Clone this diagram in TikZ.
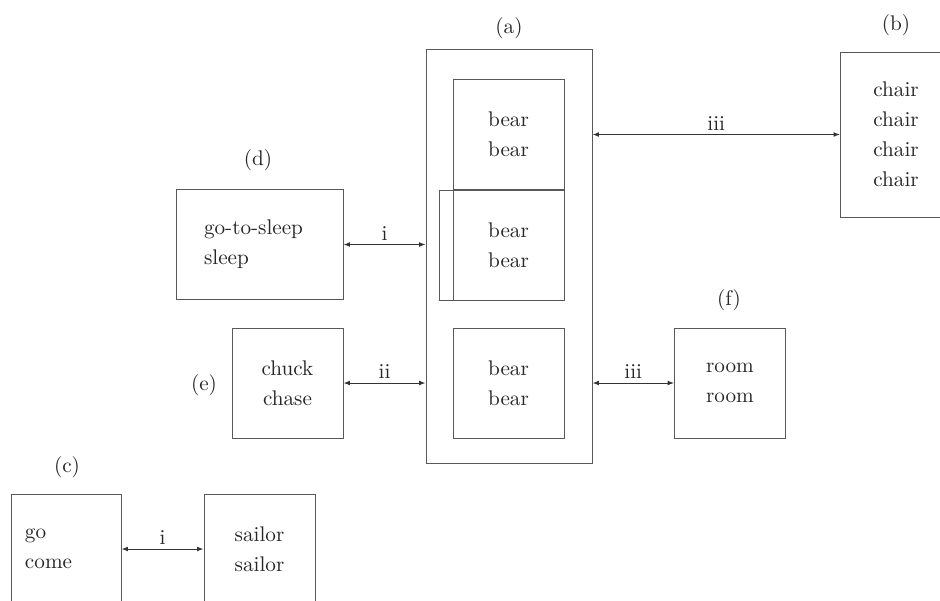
\documentclass[tikz,border=0pt]{standalone}
\usetikzlibrary{arrows.meta}
\begin{document}
\begin{tikzpicture}[x=0.5pt,y=-0.5pt,
  every node/.style={font=\fontsize{10.6}{15}\selectfont, text=black!85},
  box/.style={draw=black!65, line width=0.5pt, minimum width=55.5pt, minimum height=55pt, inner sep=0pt, align=center},
  lbox/.style={draw=black!65, line width=0.5pt, minimum height=55pt, align=left, inner ysep=0pt},
  frame/.style={draw=black!65, line width=0.5pt},
  link/.style={draw=black!80, line width=0.5pt, {Latex[length=3.2pt,width=2.4pt]}-{Latex[length=3.2pt,width=2.4pt]}},
  tag/.style={inner sep=1pt}]
\useasboundingbox (0,0) rectangle (940,600);
\clip (0,0) rectangle (940,600);
% (a) group
\node[frame, minimum width=83pt, minimum height=207pt, inner sep=0pt] (a) at (509,256) {};
\node[tag] (la) at (509,28) {(a)};
\draw[frame] (439,190) rectangle (564,300);
\node[box, fill=white] (a1) at (508.5,134.5) {bear\\bear};
\node[box, fill=white] (a2) at (508.5,245) {bear\\bear};
\node[box] (a3) at (508.5,383) {bear\\bear};
% (b)
\node[box, minimum height=82.5pt] (b) at (896,134.5) {chair\\chair\\chair\\chair};
\node[tag] (lb) at (896,25) {(b)};
% (d)
\node[lbox, text width=55.5pt, inner xsep=14pt] (d) at (259.5,244.5) {go-to-sleep\\sleep};
\node[tag] (ld) at (258,160) {(d)};
% (e)
\node[box] (e) at (287.5,383) {chuck\\chase};
\node[tag] (le) at (204,385) {(e)};
% (f)
\node[box] (f) at (730,383) {room\\room};
\node[tag] (lf) at (729,300) {(f)};
% (c)
\node[lbox, text width=41pt, inner xsep=7pt] (c) at (66,549) {go\\come};
\node[tag] (lc) at (67,467) {(c)};
\node[box] (s) at (259.5,549) {sailor\\sailor};
% connectors
\draw[link] (d.east) -- node[above=1pt, inner sep=1pt] {i} (d.east -| a.west);
\draw[link] (e.east) -- node[above=1pt, inner sep=1pt] {ii} (e.east -| a.west);
\draw[link] (b.west -| a.east) -- node[above=1pt, inner sep=1pt] {iii} (b.west);
\draw[link] (f.west -| a.east) -- node[above=1pt, inner sep=1pt] {iii} (f.west);
\draw[link] (c.east) -- node[above=1pt, inner sep=1pt] {i} (s.west);
\end{tikzpicture}
\end{document}
